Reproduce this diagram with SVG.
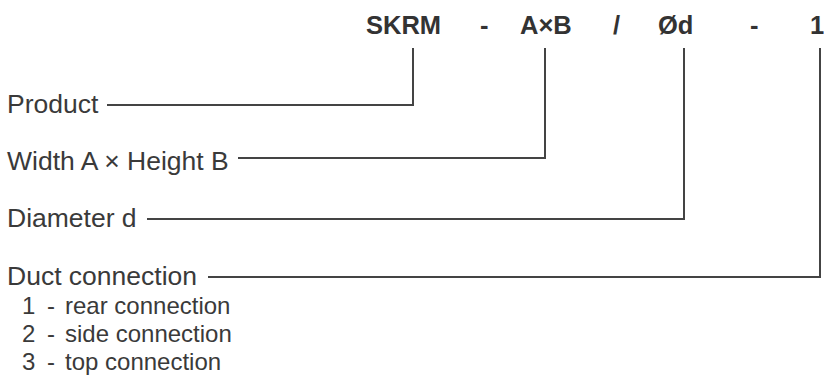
<svg xmlns="http://www.w3.org/2000/svg" width="824" height="376" viewBox="0 0 824 376">
<style>
.code{font-family:"Liberation Sans",Arial,sans-serif;font-size:25.5px;font-weight:bold;fill:#333}
.lbl{font-family:"Liberation Sans",Arial,sans-serif;font-size:26.5px;fill:#3a3a3a}
.lst{font-family:"Liberation Sans",Arial,sans-serif;font-size:24px;fill:#3a3a3a}
.con{fill:none;stroke:#444;stroke-width:2}
</style>
<rect width="824" height="376" fill="#fff"/>
<g id="code">
<text class="code" y="34"><tspan x="366">SKRM</tspan><tspan x="480">-</tspan><tspan x="520">A×B</tspan><tspan x="613">/</tspan><tspan x="658">Ød</tspan><tspan x="750">-</tspan><tspan x="810">1</tspan></text>
</g>
<g id="product"><text class="lbl" x="7" y="113">Product</text></g>
<g id="width-height"><text class="lbl" x="7" y="170">Width A × Height B</text></g>
<g id="diameter"><text class="lbl" x="7" y="227">Diameter d</text></g>
<g id="duct">
<text class="lbl" x="7" y="285">Duct connection</text>
<text class="lst" y="314"><tspan x="22">1</tspan><tspan x="47">-</tspan><tspan x="65">rear connection</tspan></text>
<text class="lst" y="342"><tspan x="22">2</tspan><tspan x="47">-</tspan><tspan x="65">side connection</tspan></text>
<text class="lst" y="370"><tspan x="22">3</tspan><tspan x="47">-</tspan><tspan x="65">top connection</tspan></text>
</g>
<g id="connectors">
<polyline class="con" points="107,105 413,105 413,48"/>
<polyline class="con" points="238,158 545,158 545,48"/>
<polyline class="con" points="147,219 684,219 684,48"/>
<polyline class="con" points="208,277 820,277 820,48"/>
</g>
</svg>
